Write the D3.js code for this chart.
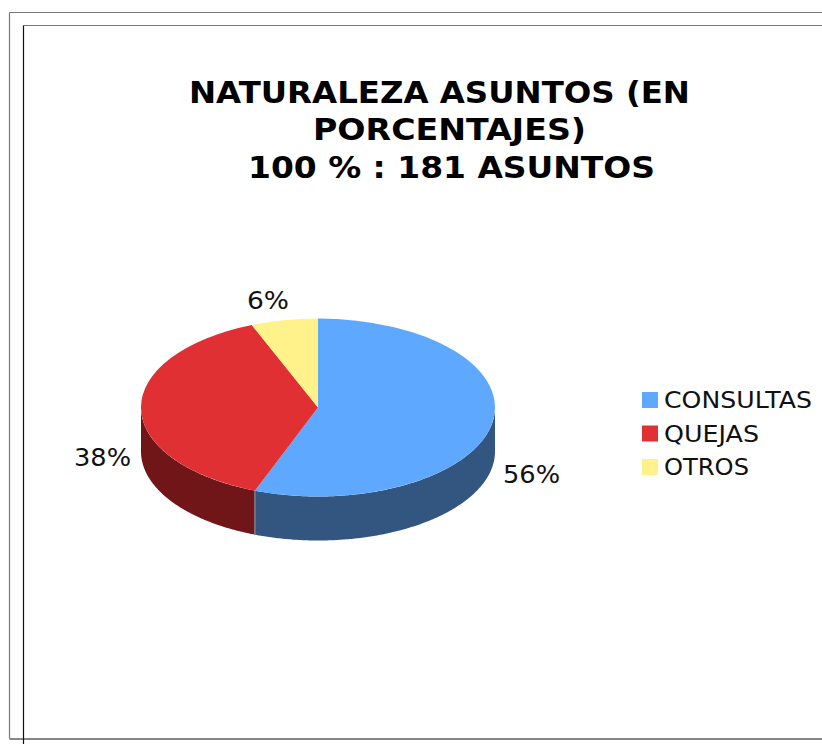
<!DOCTYPE html>
<html><head><meta charset="utf-8">
<script src="https://cdn.jsdelivr.net/npm/d3@7/dist/d3.min.js"></script>
<style>html,body{margin:0;padding:0;background:#fff;overflow:hidden}svg{display:block}text{font-family:"DejaVu Sans",Verdana,sans-serif;fill:#111}</style>
</head><body><svg width="822" height="744"></svg>
<script>
const categories = ["CONSULTAS","QUEJAS","OTROS"];
const values = [55.8,38.1,6.1];
const labels = ["56%","38%","6%"];
const topColors = ["#5FA8FF","#E03034","#FFF28A"];
const sideColors = ["#32567F","#701518","#7F7945"];
const titleLines = ["NATURALEZA ASUNTOS (EN","PORCENTAJES)","100 % : 181 ASUNTOS"];

const svg = d3.select("svg");
const cx=318, cy=407.5, rx=177, ry=89, depth=44;
function fit(sel,w){ sel.attr("textLength",(d,i)=>w[i]).attr("lengthAdjust","spacingAndGlyphs"); }

// frames
const frame=[[9,12,822,12,"#777"],[9,12,9,738,"#777"],[23,25,822,25,"#777"],[23,25,23,744,"#111"],[9,738.5,822,738.5,"#111"]];
svg.selectAll("line.f").data(frame).join("line").attr("class","f")
  .attr("x1",d=>d[0]+.5).attr("y1",d=>d[1]+.5).attr("x2",d=>d[2]+.5).attr("y2",d=>d[3]+.5)
  .attr("stroke",d=>d[4]).attr("stroke-width",1.2);

// title
svg.append("g").selectAll("text").data(titleLines).join("text")
  .attr("x",(d,i)=>[189,313,248][i]).attr("y",(d,i)=>[103,140,177.5][i])
  .attr("font-size",30).attr("font-weight","bold").style("fill","#000").text(d=>d)
  .call(fit,[501,273,407]);

// pie
const pie=d3.pie().sort(null).value(d=>d)(values);
const px=a=>cx+rx*Math.sin(a), py=a=>cy-ry*Math.cos(a);
const line=d3.line();
const g=svg.append("g");
pie.forEach((p,i)=>{
  const a0=Math.max(p.startAngle,Math.PI/2), a1=Math.min(p.endAngle,Math.PI*1.5);
  if(a1<=a0) return;
  const ang=d3.range(a0,a1,0.01).concat([a1]);
  const pts=ang.map(a=>[px(a),py(a)]).concat(ang.slice().reverse().map(a=>[px(a),py(a)+depth]));
  g.append("path").attr("d",line(pts)+"Z").attr("fill",sideColors[i]);
});
const arc=d3.arc().innerRadius(0).outerRadius(rx);
g.selectAll("path.top").data(pie).join("path").attr("class","top")
  .attr("transform",`translate(${cx},${cy}) scale(1,${ry/rx})`)
  .attr("d",arc).attr("fill",(d,i)=>topColors[i]);
// pale seam on the front side
const seam=pie[0].endAngle;
g.append("line").attr("x1",px(seam)).attr("x2",px(seam)).attr("y1",py(seam)).attr("y2",py(seam)+depth)
  .attr("stroke","#8c9bb0").attr("stroke-width",1);

// data labels
const lp=[[503,483],[74,466],[247,309]];
svg.append("g").selectAll("text").data(labels).join("text")
  .attr("x",(d,i)=>lp[i][0]).attr("y",(d,i)=>lp[i][1])
  .attr("font-size",24).text(d=>d).call(fit,[57,57,42]);

// legend
const leg=svg.append("g").attr("transform","translate(642,392)");
const rows=leg.selectAll("g").data(categories).join("g").attr("transform",(d,i)=>`translate(0,${i*33.5})`);
rows.append("rect").attr("width",16).attr("height",16).attr("fill",(d,i)=>topColors[i]);
rows.append("text").attr("x",22).attr("y",16).attr("font-size",23.5).text(d=>d)
  .each(function(d,i){ this.setAttribute("textLength",[148,95,85][i]); this.setAttribute("lengthAdjust","spacingAndGlyphs"); });
</script></body></html>
